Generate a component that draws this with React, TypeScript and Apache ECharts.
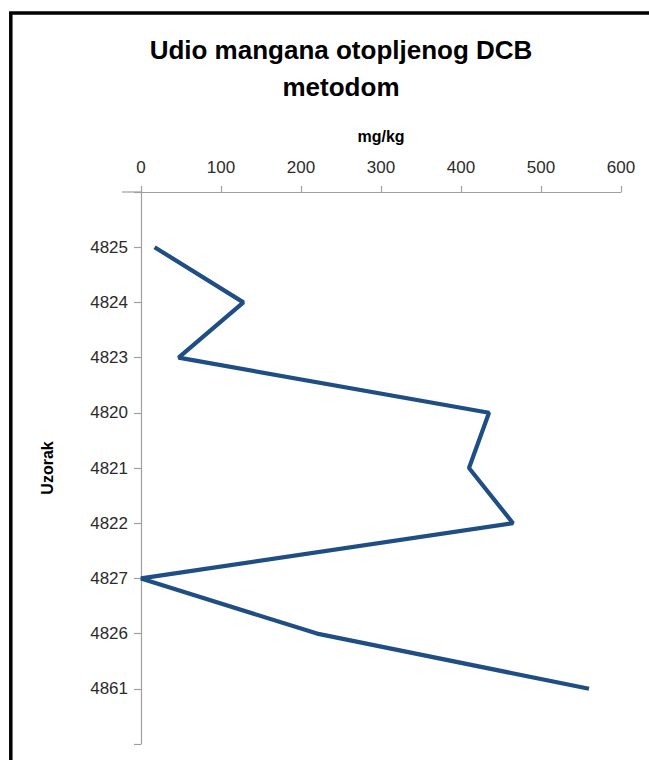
import React, { useEffect, useRef } from "react";
import * as echarts from "echarts";

const titleLines = ["Udio mangana otopljenog DCB", "metodom"];
const samples = ["4825", "4824", "4823", "4820", "4821", "4822", "4827", "4826", "4861"];
const manganese = [17, 128, 47, 435, 410, 465, 0, 220, 560];
const xTicks = { min: 0, max: 600, interval: 100 };
const xAxisName = "mg/kg";
const yAxisName = "Uzorak";

export default function App() {
  const ref = useRef<HTMLDivElement>(null);
  useEffect(() => {
    if (!ref.current) return;
    const chart = echarts.init(ref.current, null, { renderer: "svg" });
    const axisCats = ["", ...samples, ""];
    const font = "'Liberation Sans', Arial, sans-serif";
    chart.setOption({
      animation: false,
      backgroundColor: "#ffffff",
      grid: {
        left: 141,
        top: 192,
        right: 28,
        bottom: 16,
        containLabel: false,
        outerBoundsMode: "none",
      },
      graphic: [
        {
          type: "rect",
          z: 0,
          shape: { x: 10.8, y: 13, width: 720, height: 820 },
          style: { fill: "none", stroke: "#000000", lineWidth: 3.5 },
          silent: true,
        },
        {
          type: "text",
          x: 341,
          y: 50,
          style: {
            text: titleLines[0],
            font: `bold 26px ${font}`,
            fill: "#000000",
            align: "center",
            verticalAlign: "middle",
          },
        },
        {
          type: "text",
          x: 341,
          y: 87,
          style: {
            text: titleLines[1],
            font: `bold 26px ${font}`,
            fill: "#000000",
            align: "center",
            verticalAlign: "middle",
          },
        },
        {
          type: "line",
          shape: { x1: 122, y1: 192, x2: 141, y2: 192 },
          style: { stroke: "#a0a0a0", lineWidth: 1.2 },
          silent: true,
        },
      ],
      xAxis: {
        type: "value",
        position: "top",
        min: xTicks.min,
        max: xTicks.max,
        interval: xTicks.interval,
        name: xAxisName,
        nameLocation: "middle",
        nameGap: 48,
        nameTextStyle: { fontFamily: font, fontSize: 16, fontWeight: "bold", color: "#000000" },
        axisLine: { show: true, lineStyle: { color: "#a0a0a0", width: 1.2 } },
        axisTick: { show: true, length: 6, lineStyle: { color: "#a0a0a0", width: 1.2 } },
        axisLabel: { margin: 16, fontFamily: font, fontSize: 17, color: "#2b2b2b" },
        splitLine: { show: false },
      },
      yAxis: {
        type: "category",
        inverse: true,
        boundaryGap: false,
        data: axisCats,
        name: yAxisName,
        nameLocation: "middle",
        nameRotate: 90,
        nameGap: 86,
        nameTextStyle: { fontFamily: font, fontSize: 16, fontWeight: "bold", color: "#000000" },
        axisLine: { show: true, lineStyle: { color: "#a0a0a0", width: 1.2 } },
        axisTick: { show: true, interval: 0, length: 7, lineStyle: { color: "#a0a0a0", width: 1.2 } },
        axisLabel: { interval: 0, margin: 13, fontFamily: font, fontSize: 17, color: "#2b2b2b" },
        splitLine: { show: false },
      },
      series: [
        {
          type: "line",
          data: manganese.map((v, i) => [v, i + 1]),
          showSymbol: false,
          symbol: "none",
          lineStyle: { color: "#1F4E84", width: 4.2 },
          itemStyle: { color: "#1F4E84" },
          z: 3,
        },
      ],
    });
    return () => chart.dispose();
  }, []);
  return (
    <div
      ref={ref}
      style={{ position: "fixed", left: 0, top: 0, width: 649, height: 760, background: "#fff" }}
    />
  );
}
